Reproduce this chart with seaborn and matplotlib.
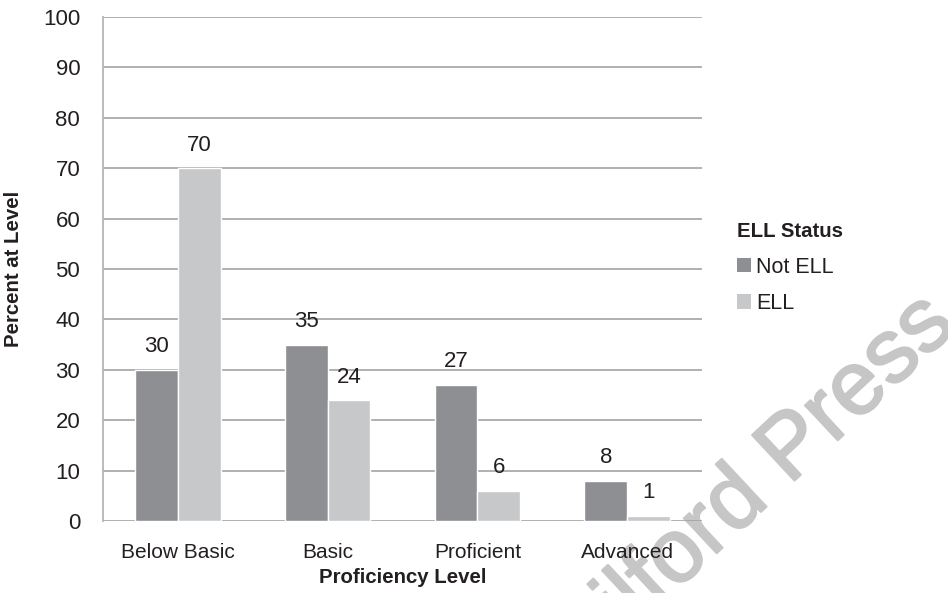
import matplotlib
matplotlib.use("Agg")
import matplotlib.pyplot as plt
import matplotlib.patheffects as pe
import seaborn as sns
import pandas as pd
from matplotlib.patches import Patch

# Percent of students at each proficiency level, by ELL status
levels = ["Below Basic", "Basic", "Proficient", "Advanced"]
not_ell = [30, 35, 27, 8]
ell = [70, 24, 6, 1]
groups = ["Not ELL", "ELL"]
colors = ["#8e8f93", "#c7c8ca"]

df = pd.DataFrame({
    "Proficiency Level": levels * 2,
    "Percent": not_ell + ell,
    "ELL Status": [groups[0]] * len(levels) + [groups[1]] * len(levels),
})

sns.set_style("white")
plt.rcParams["font.family"] = ["Liberation Sans", "DejaVu Sans"]
text_color = "#231f20"
grid_color = "#a3a3a3"

fig = plt.figure(figsize=(9.48, 5.93), dpi=100)
ax = fig.add_axes([0.1087, 0.1214, 0.6318, 0.8499])
ax.set_zorder(1)
ax.patch.set_alpha(0)

sns.barplot(data=df, x="Proficiency Level", y="Percent", hue="ELL Status",
            order=levels, hue_order=groups, palette=colors, width=0.57,
            saturation=1, ax=ax, legend=False, zorder=3)

for cont in ax.containers:
    ax.bar_label(cont, labels=[f"{v:g}" for v in cont.datavalues],
                 padding=9, fontsize=16, color=text_color)

ax.set_xlim(-0.5, len(levels) - 0.5)
ax.set_ylim(0, 100)
ax.set_yticks(range(0, 101, 10))
ax.yaxis.grid(True, color=grid_color, linewidth=1.2, zorder=0)
ax.set_axisbelow(True)

for side in ["top", "right", "bottom"]:
    ax.spines[side].set_visible(False)
ax.spines["left"].set_color("#b5b5b5")
ax.spines["left"].set_linewidth(1.3)

ax.tick_params(axis="y", length=4.5, width=1.2, color=grid_color,
               labelsize=16, labelcolor=text_color, pad=12)
ax.tick_params(axis="x", which="major", length=0, labelsize=15,
               labelcolor=text_color, pad=16)
ax.set_xticks([i - 0.5 for i in range(len(levels) + 1)], minor=True)
ax.tick_params(axis="x", which="minor", length=5, width=1.2, color=grid_color)

ax.set_xlabel("Proficiency Level", fontsize=14.7, fontweight="bold",
              color=text_color, labelpad=4)
ax.set_ylabel("Percent at Level", fontsize=14.7, fontweight="bold",
              color=text_color, labelpad=14)

handles = [Patch(facecolor=c, edgecolor="none", label=g)
           for c, g in zip(colors, groups)]
leg = ax.legend(handles=handles, title="ELL Status", loc="upper left",
                bbox_to_anchor=(0.768, 0.64), bbox_transform=fig.transFigure,
                frameon=False, fontsize=15.5, title_fontsize=14.7,
                alignment="left", handlelength=0.65, handleheight=0.65,
                handletextpad=0.25, labelspacing=0.72, borderaxespad=0)
leg.get_title().set_fontweight("bold")
leg.get_title().set_color(text_color)
for t in leg.get_texts():
    t.set_color(text_color)

# publisher watermark running diagonally behind the lower right of the chart
wm_color = "#c6c6c6"
fig.text(1.01, 0.446, "Guilford Press", fontsize=65, color=wm_color,
         rotation=43, rotation_mode="anchor", ha="right",
         va="baseline", zorder=0.5,
         path_effects=[pe.withStroke(linewidth=1.6, foreground=wm_color)])

fig.savefig("out.png", dpi=100)
